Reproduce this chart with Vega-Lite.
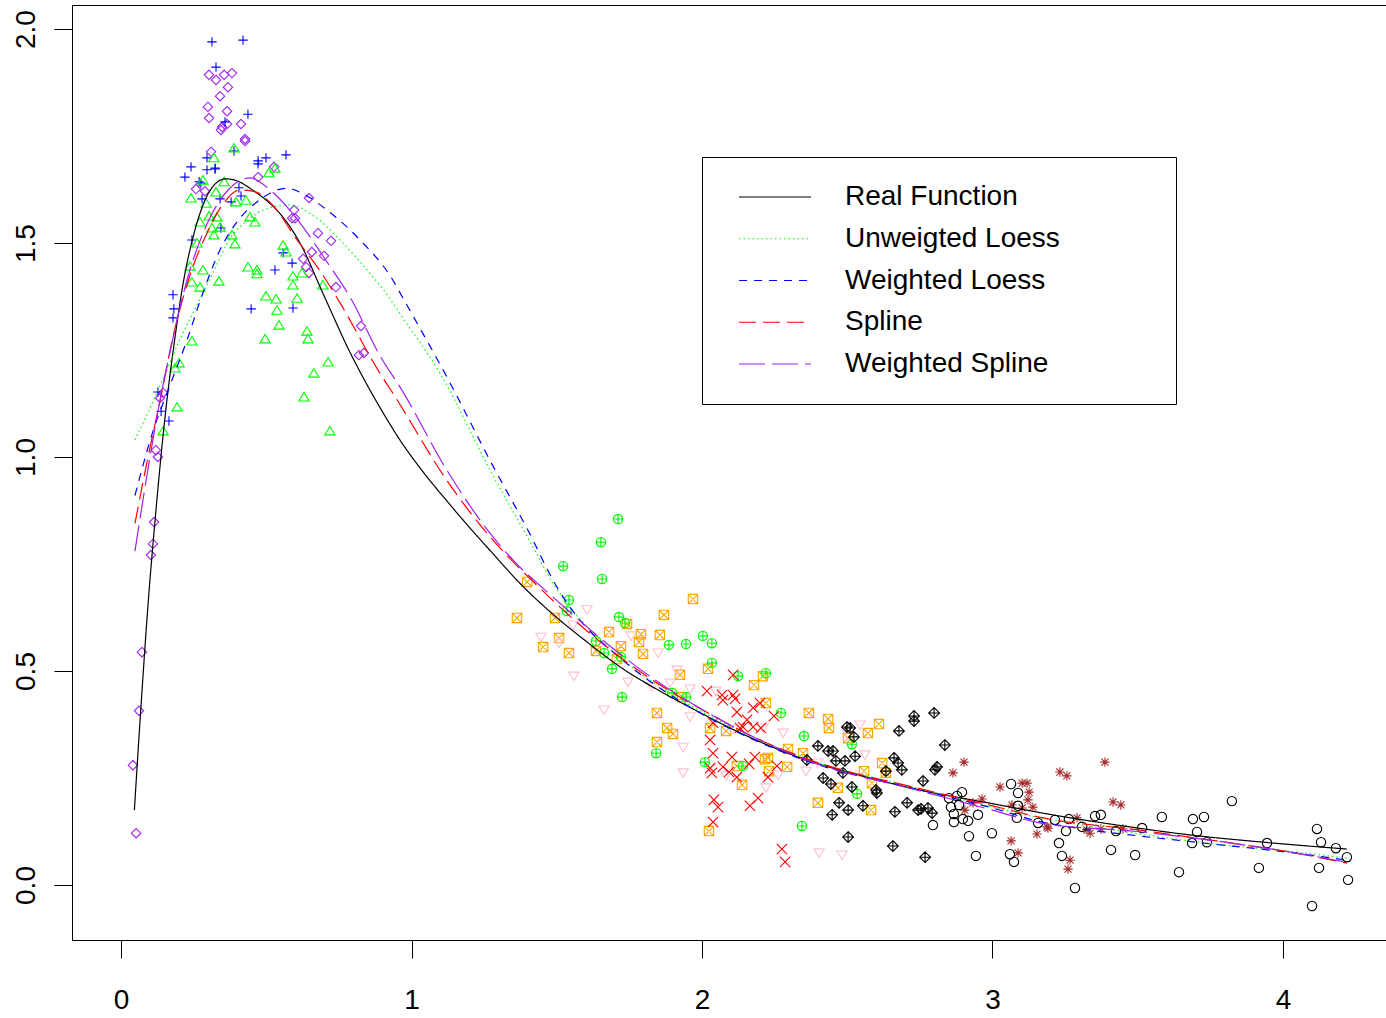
{
"$schema": "https://vega.github.io/schema/vega-lite/v6.json",
"width": 1314, "height": 935,
"autosize": {"type": "none"},
"padding": {"left": 72, "top": 5, "right": 0, "bottom": 78},
"background": "white",
"config": {
  "view": {"stroke": "black", "strokeWidth": 1},
  "axis": {"domain": false, "grid": false, "ticks": true, "tickColor": "black", "tickWidth": 1, "tickSize": 18, "labelFont": "Liberation Sans", "labelFontSize": 28, "labelColor": "black", "title": null, "labelOverlap": false, "labelFlush": false}
},
"datasets": {
"pts": [
{"g":"diamond","x":0.041,"y":0.280},{"g":"diamond","x":0.052,"y":0.121},{"g":"diamond","x":0.062,"y":0.407},{"g":"diamond","x":0.072,"y":0.544},{"g":"diamond","x":0.103,"y":0.771},{"g":"diamond","x":0.110,"y":0.797},{"g":"diamond","x":0.114,"y":0.848},{"g":"diamond","x":0.120,"y":1.016},{"g":"diamond","x":0.127,"y":1.000},{"g":"diamond","x":0.134,"y":1.138},{"g":"diamond","x":0.145,"y":1.150},
{"g":"diamond","x":0.303,"y":1.893},{"g":"diamond","x":0.327,"y":1.881},{"g":"diamond","x":0.355,"y":1.893},{"g":"diamond","x":0.382,"y":1.897},{"g":"diamond","x":0.368,"y":1.864},{"g":"diamond","x":0.341,"y":1.843},{"g":"diamond","x":0.299,"y":1.818},{"g":"diamond","x":0.365,"y":1.808},{"g":"diamond","x":0.303,"y":1.792},{"g":"diamond","x":0.348,"y":1.771},{"g":"diamond","x":0.365,"y":1.778},{"g":"diamond","x":0.413,"y":1.778},{"g":"diamond","x":0.427,"y":1.743},{"g":"diamond","x":0.427,"y":1.738},{"g":"diamond","x":0.310,"y":1.713},{"g":"diamond","x":0.527,"y":1.678},{"g":"diamond","x":0.472,"y":1.654},{"g":"diamond","x":0.258,"y":1.626},{"g":"diamond","x":0.289,"y":1.621},{"g":"diamond","x":0.344,"y":1.764},{"g":"diamond","x":0.647,"y":1.605},{"g":"diamond","x":0.596,"y":1.577},{"g":"diamond","x":0.589,"y":1.558},{"g":"diamond","x":0.599,"y":1.558},{"g":"diamond","x":0.678,"y":1.523},{"g":"diamond","x":0.723,"y":1.505},{"g":"diamond","x":0.657,"y":1.479},{"g":"diamond","x":0.699,"y":1.470},{"g":"diamond","x":0.627,"y":1.463},{"g":"diamond","x":0.637,"y":1.444},{"g":"diamond","x":0.647,"y":1.430},{"g":"diamond","x":0.740,"y":1.397},{"g":"diamond","x":0.826,"y":1.306},{"g":"diamond","x":0.819,"y":1.238},{"g":"diamond","x":0.836,"y":1.243},
{"g":"plus","x":0.313,"y":1.970},{"g":"plus","x":0.420,"y":1.974},{"g":"plus","x":0.327,"y":1.911},{"g":"plus","x":0.437,"y":1.801},{"g":"plus","x":0.358,"y":1.783},{"g":"plus","x":0.389,"y":1.715},{"g":"plus","x":0.296,"y":1.699},{"g":"plus","x":0.472,"y":1.692},{"g":"plus","x":0.472,"y":1.685},{"g":"plus","x":0.499,"y":1.699},{"g":"plus","x":0.568,"y":1.706},{"g":"plus","x":0.241,"y":1.678},{"g":"plus","x":0.296,"y":1.671},{"g":"plus","x":0.324,"y":1.675},{"g":"plus","x":0.324,"y":1.673},{"g":"plus","x":0.220,"y":1.654},{"g":"plus","x":0.269,"y":1.643},{"g":"plus","x":0.275,"y":1.640},{"g":"plus","x":0.406,"y":1.629},{"g":"plus","x":0.413,"y":1.610},{"g":"plus","x":0.341,"y":1.603},{"g":"plus","x":0.279,"y":1.603},{"g":"plus","x":0.379,"y":1.596},{"g":"plus","x":0.344,"y":1.535},{"g":"plus","x":0.244,"y":1.507},{"g":"plus","x":0.558,"y":1.477},{"g":"plus","x":0.589,"y":1.453},{"g":"plus","x":0.530,"y":1.437},{"g":"plus","x":0.448,"y":1.346},{"g":"plus","x":0.592,"y":1.348},{"g":"plus","x":0.179,"y":1.379},{"g":"plus","x":0.182,"y":1.346},{"g":"plus","x":0.179,"y":1.325},{"g":"plus","x":0.127,"y":1.152},{"g":"plus","x":0.138,"y":1.107},{"g":"plus","x":0.165,"y":1.084},
{"g":"triangle","x":0.389,"y":1.722},{"g":"triangle","x":0.320,"y":1.699},{"g":"triangle","x":0.530,"y":1.675},{"g":"triangle","x":0.509,"y":1.664},{"g":"triangle","x":0.282,"y":1.647},{"g":"triangle","x":0.355,"y":1.643},{"g":"triangle","x":0.241,"y":1.605},{"g":"triangle","x":0.327,"y":1.619},{"g":"triangle","x":0.293,"y":1.593},{"g":"triangle","x":0.396,"y":1.596},{"g":"triangle","x":0.430,"y":1.600},{"g":"triangle","x":0.303,"y":1.563},{"g":"triangle","x":0.272,"y":1.549},{"g":"triangle","x":0.330,"y":1.561},{"g":"triangle","x":0.444,"y":1.561},{"g":"triangle","x":0.461,"y":1.549},{"g":"triangle","x":0.313,"y":1.535},{"g":"triangle","x":0.320,"y":1.519},{"g":"triangle","x":0.341,"y":1.537},{"g":"triangle","x":0.262,"y":1.500},{"g":"triangle","x":0.382,"y":1.519},{"g":"triangle","x":0.392,"y":1.498},{"g":"triangle","x":0.558,"y":1.495},{"g":"triangle","x":0.568,"y":1.479},{"g":"triangle","x":0.238,"y":1.446},{"g":"triangle","x":0.282,"y":1.437},{"g":"triangle","x":0.244,"y":1.409},{"g":"triangle","x":0.272,"y":1.397},{"g":"triangle","x":0.337,"y":1.411},{"g":"triangle","x":0.437,"y":1.444},{"g":"triangle","x":0.468,"y":1.437},{"g":"triangle","x":0.468,"y":1.428},{"g":"triangle","x":0.592,"y":1.423},{"g":"triangle","x":0.592,"y":1.402},{"g":"triangle","x":0.623,"y":1.430},{"g":"triangle","x":0.695,"y":1.402},{"g":"triangle","x":0.499,"y":1.376},{"g":"triangle","x":0.534,"y":1.369},{"g":"triangle","x":0.606,"y":1.371},{"g":"triangle","x":0.537,"y":1.343},{"g":"triangle","x":0.544,"y":1.308},{"g":"triangle","x":0.640,"y":1.294},{"g":"triangle","x":0.644,"y":1.276},{"g":"triangle","x":0.496,"y":1.276},{"g":"triangle","x":0.244,"y":1.271},{"g":"triangle","x":0.713,"y":1.222},{"g":"triangle","x":0.664,"y":1.196},{"g":"triangle","x":0.200,"y":1.220},{"g":"triangle","x":0.186,"y":1.208},{"g":"triangle","x":0.193,"y":1.117},{"g":"triangle","x":0.630,"y":1.140},{"g":"triangle","x":0.719,"y":1.061},{"g":"triangle","x":0.145,"y":1.061},
{"g":"boxx","x":1.398,"y":0.708},{"g":"boxx","x":1.363,"y":0.624},{"g":"boxx","x":1.494,"y":0.624},{"g":"boxx","x":1.508,"y":0.577},{"g":"boxx","x":1.453,"y":0.556},{"g":"boxx","x":1.542,"y":0.542},{"g":"boxx","x":1.680,"y":0.591},{"g":"boxx","x":1.721,"y":0.558},{"g":"boxx","x":1.783,"y":0.568},{"g":"boxx","x":1.790,"y":0.586},{"g":"boxx","x":1.797,"y":0.540},{"g":"boxx","x":1.855,"y":0.584},{"g":"boxx","x":1.869,"y":0.631},{"g":"boxx","x":1.969,"y":0.668},{"g":"boxx","x":1.635,"y":0.547},{"g":"boxx","x":1.707,"y":0.528},{"g":"boxx","x":1.742,"y":0.610},{"g":"boxx","x":1.924,"y":0.491},{"g":"boxx","x":2.021,"y":0.505},{"g":"boxx","x":1.845,"y":0.402},{"g":"boxx","x":1.880,"y":0.367},{"g":"boxx","x":1.900,"y":0.353},{"g":"boxx","x":1.845,"y":0.334},{"g":"boxx","x":2.028,"y":0.367},{"g":"boxx","x":1.931,"y":0.439},{"g":"boxx","x":2.083,"y":0.360},{"g":"boxx","x":2.179,"y":0.467},{"g":"boxx","x":2.210,"y":0.488},{"g":"boxx","x":2.220,"y":0.425},{"g":"boxx","x":2.227,"y":0.297},{"g":"boxx","x":2.217,"y":0.294},{"g":"boxx","x":2.231,"y":0.266},{"g":"boxx","x":2.120,"y":0.278},{"g":"boxx","x":2.138,"y":0.234},{"g":"boxx","x":2.293,"y":0.276},{"g":"boxx","x":2.296,"y":0.318},{"g":"boxx","x":2.348,"y":0.308},{"g":"boxx","x":2.368,"y":0.402},{"g":"boxx","x":2.434,"y":0.388},{"g":"boxx","x":2.437,"y":0.367},{"g":"boxx","x":2.571,"y":0.355},{"g":"boxx","x":2.609,"y":0.376},{"g":"boxx","x":2.503,"y":0.343},{"g":"boxx","x":2.620,"y":0.285},{"g":"boxx","x":2.633,"y":0.262},{"g":"boxx","x":2.558,"y":0.266},{"g":"boxx","x":2.585,"y":0.238},{"g":"boxx","x":2.468,"y":0.227},{"g":"boxx","x":2.399,"y":0.192},{"g":"boxx","x":2.582,"y":0.175},{"g":"boxx","x":2.024,"y":0.126},
{"g":"circplus","x":1.711,"y":0.855},{"g":"circplus","x":1.652,"y":0.801},{"g":"circplus","x":1.522,"y":0.745},{"g":"circplus","x":1.656,"y":0.715},{"g":"circplus","x":1.542,"y":0.666},{"g":"circplus","x":1.535,"y":0.640},{"g":"circplus","x":1.714,"y":0.626},{"g":"circplus","x":1.735,"y":0.612},{"g":"circplus","x":1.886,"y":0.561},{"g":"circplus","x":1.945,"y":0.563},{"g":"circplus","x":2.003,"y":0.582},{"g":"circplus","x":2.034,"y":0.565},{"g":"circplus","x":1.663,"y":0.542},{"g":"circplus","x":1.635,"y":0.570},{"g":"circplus","x":1.690,"y":0.505},{"g":"circplus","x":1.725,"y":0.439},{"g":"circplus","x":1.897,"y":0.449},{"g":"circplus","x":1.945,"y":0.439},{"g":"circplus","x":2.034,"y":0.519},{"g":"circplus","x":2.124,"y":0.488},{"g":"circplus","x":2.220,"y":0.495},{"g":"circplus","x":2.272,"y":0.402},{"g":"circplus","x":2.351,"y":0.348},{"g":"circplus","x":2.516,"y":0.329},{"g":"circplus","x":2.010,"y":0.287},{"g":"circplus","x":2.141,"y":0.278},{"g":"circplus","x":2.534,"y":0.213},{"g":"circplus","x":2.344,"y":0.138},{"g":"circplus","x":1.721,"y":0.533},{"g":"circplus","x":1.842,"y":0.308},
{"g":"tridown","x":1.604,"y":0.643},{"g":"tridown","x":1.556,"y":0.607},{"g":"tridown","x":1.446,"y":0.579},{"g":"tridown","x":1.508,"y":0.565},{"g":"tridown","x":1.756,"y":0.582},{"g":"tridown","x":1.849,"y":0.542},{"g":"tridown","x":1.559,"y":0.488},{"g":"tridown","x":1.745,"y":0.474},{"g":"tridown","x":1.914,"y":0.502},{"g":"tridown","x":1.890,"y":0.472},{"g":"tridown","x":1.959,"y":0.458},{"g":"tridown","x":1.828,"y":0.463},{"g":"tridown","x":1.663,"y":0.409},{"g":"tridown","x":1.959,"y":0.393},{"g":"tridown","x":2.048,"y":0.453},{"g":"tridown","x":1.935,"y":0.322},{"g":"tridown","x":2.107,"y":0.364},{"g":"tridown","x":2.279,"y":0.355},{"g":"tridown","x":2.210,"y":0.367},{"g":"tridown","x":2.083,"y":0.255},{"g":"tridown","x":2.220,"y":0.227},{"g":"tridown","x":2.262,"y":0.257},{"g":"tridown","x":2.358,"y":0.266},{"g":"tridown","x":2.399,"y":0.285},{"g":"tridown","x":2.561,"y":0.304},{"g":"tridown","x":2.544,"y":0.374},{"g":"tridown","x":2.403,"y":0.075},{"g":"tridown","x":2.482,"y":0.070},{"g":"tridown","x":2.503,"y":0.348},{"g":"tridown","x":1.935,"y":0.262},
{"g":"cross","x":2.017,"y":0.453},{"g":"cross","x":2.069,"y":0.444},{"g":"cross","x":2.107,"y":0.444},{"g":"cross","x":2.072,"y":0.432},{"g":"cross","x":2.114,"y":0.435},{"g":"cross","x":2.120,"y":0.404},{"g":"cross","x":2.176,"y":0.414},{"g":"cross","x":2.200,"y":0.425},{"g":"cross","x":2.248,"y":0.395},{"g":"cross","x":2.155,"y":0.386},{"g":"cross","x":2.176,"y":0.369},{"g":"cross","x":2.131,"y":0.367},{"g":"cross","x":2.203,"y":0.367},{"g":"cross","x":2.038,"y":0.379},{"g":"cross","x":2.028,"y":0.339},{"g":"cross","x":2.038,"y":0.308},{"g":"cross","x":2.103,"y":0.299},{"g":"cross","x":2.072,"y":0.276},{"g":"cross","x":2.028,"y":0.273},{"g":"cross","x":2.034,"y":0.262},{"g":"cross","x":2.120,"y":0.252},{"g":"cross","x":2.093,"y":0.264},{"g":"cross","x":2.162,"y":0.283},{"g":"cross","x":2.182,"y":0.299},{"g":"cross","x":2.227,"y":0.252},{"g":"cross","x":2.258,"y":0.278},{"g":"cross","x":2.041,"y":0.199},{"g":"cross","x":2.055,"y":0.182},{"g":"cross","x":2.165,"y":0.185},{"g":"cross","x":2.193,"y":0.203},{"g":"cross","x":2.038,"y":0.147},{"g":"cross","x":2.275,"y":0.084},{"g":"cross","x":2.286,"y":0.054},{"g":"cross","x":2.107,"y":0.491},{"g":"cross","x":2.141,"y":0.369},
{"g":"diamplus","x":2.499,"y":0.369},{"g":"diamplus","x":2.510,"y":0.367},{"g":"diamplus","x":2.523,"y":0.346},{"g":"diamplus","x":2.399,"y":0.325},{"g":"diamplus","x":2.434,"y":0.313},{"g":"diamplus","x":2.451,"y":0.313},{"g":"diamplus","x":2.361,"y":0.292},{"g":"diamplus","x":2.461,"y":0.290},{"g":"diamplus","x":2.492,"y":0.290},{"g":"diamplus","x":2.527,"y":0.301},{"g":"diamplus","x":2.417,"y":0.250},{"g":"diamplus","x":2.444,"y":0.236},{"g":"diamplus","x":2.485,"y":0.262},{"g":"diamplus","x":2.516,"y":0.229},{"g":"diamplus","x":2.599,"y":0.222},{"g":"diamplus","x":2.602,"y":0.215},{"g":"diamplus","x":2.472,"y":0.192},{"g":"diamplus","x":2.503,"y":0.175},{"g":"diamplus","x":2.554,"y":0.185},{"g":"diamplus","x":2.448,"y":0.164},{"g":"diamplus","x":2.503,"y":0.112},{"g":"diamplus","x":2.661,"y":0.297},{"g":"diamplus","x":2.675,"y":0.285},{"g":"diamplus","x":2.688,"y":0.269},{"g":"diamplus","x":2.633,"y":0.266},{"g":"diamplus","x":2.678,"y":0.360},{"g":"diamplus","x":2.730,"y":0.395},{"g":"diamplus","x":2.730,"y":0.383},{"g":"diamplus","x":2.799,"y":0.402},{"g":"diamplus","x":2.836,"y":0.327},{"g":"diamplus","x":2.761,"y":0.243},{"g":"diamplus","x":2.802,"y":0.269},{"g":"diamplus","x":2.809,"y":0.276},{"g":"diamplus","x":2.706,"y":0.192},{"g":"diamplus","x":2.664,"y":0.171},{"g":"diamplus","x":2.754,"y":0.178},{"g":"diamplus","x":2.778,"y":0.180},{"g":"diamplus","x":2.792,"y":0.168},{"g":"diamplus","x":2.657,"y":0.091},{"g":"diamplus","x":2.768,"y":0.065},{"g":"diamplus","x":2.744,"y":0.175},
{"g":"asterisk","x":2.902,"y":0.287},{"g":"asterisk","x":2.864,"y":0.262},{"g":"asterisk","x":2.964,"y":0.201},{"g":"asterisk","x":3.026,"y":0.229},{"g":"asterisk","x":3.067,"y":0.187},{"g":"asterisk","x":3.102,"y":0.238},{"g":"asterisk","x":3.119,"y":0.238},{"g":"asterisk","x":3.126,"y":0.217},{"g":"asterisk","x":3.122,"y":0.199},{"g":"asterisk","x":3.139,"y":0.182},{"g":"asterisk","x":3.102,"y":0.180},{"g":"asterisk","x":3.188,"y":0.136},{"g":"asterisk","x":3.153,"y":0.119},{"g":"asterisk","x":3.064,"y":0.103},{"g":"asterisk","x":3.088,"y":0.075},{"g":"asterisk","x":2.905,"y":0.175},{"g":"asterisk","x":2.933,"y":0.192},{"g":"asterisk","x":3.232,"y":0.264},{"g":"asterisk","x":3.256,"y":0.255},{"g":"asterisk","x":3.387,"y":0.287},{"g":"asterisk","x":3.415,"y":0.194},{"g":"asterisk","x":3.442,"y":0.187},{"g":"asterisk","x":3.291,"y":0.157},{"g":"asterisk","x":3.191,"y":0.133},{"g":"asterisk","x":3.336,"y":0.121},{"g":"asterisk","x":3.373,"y":0.131},{"g":"asterisk","x":3.449,"y":0.131},{"g":"asterisk","x":3.267,"y":0.058},{"g":"asterisk","x":3.260,"y":0.037},{"g":"asterisk","x":3.325,"y":0.129},
{"g":"circle","x":3.064,"y":0.236},{"g":"circle","x":3.088,"y":0.215},{"g":"circle","x":3.088,"y":0.185},{"g":"circle","x":2.895,"y":0.217},{"g":"circle","x":2.878,"y":0.208},{"g":"circle","x":2.850,"y":0.203},{"g":"circle","x":2.885,"y":0.187},{"g":"circle","x":2.857,"y":0.182},{"g":"circle","x":2.867,"y":0.166},{"g":"circle","x":2.898,"y":0.154},{"g":"circle","x":2.916,"y":0.150},{"g":"circle","x":2.867,"y":0.147},{"g":"circle","x":2.950,"y":0.164},{"g":"circle","x":2.795,"y":0.140},{"g":"circle","x":2.919,"y":0.114},{"g":"circle","x":2.998,"y":0.121},{"g":"circle","x":2.943,"y":0.068},{"g":"circle","x":3.060,"y":0.072},{"g":"circle","x":3.074,"y":0.054},{"g":"circle","x":3.084,"y":0.157},{"g":"circle","x":3.157,"y":0.145},{"g":"circle","x":3.215,"y":0.152},{"g":"circle","x":3.263,"y":0.154},{"g":"circle","x":3.253,"y":0.126},{"g":"circle","x":3.308,"y":0.136},{"g":"circle","x":3.353,"y":0.161},{"g":"circle","x":3.373,"y":0.164},{"g":"circle","x":3.229,"y":0.098},{"g":"circle","x":3.239,"y":0.068},{"g":"circle","x":3.284,"y":-0.007},{"g":"circle","x":3.408,"y":0.082},{"g":"circle","x":3.491,"y":0.070},{"g":"circle","x":3.425,"y":0.126},{"g":"circle","x":3.515,"y":0.133},{"g":"circle","x":3.583,"y":0.159},{"g":"circle","x":3.690,"y":0.154},{"g":"circle","x":3.728,"y":0.159},{"g":"circle","x":3.824,"y":0.196},{"g":"circle","x":3.704,"y":0.124},{"g":"circle","x":3.687,"y":0.098},{"g":"circle","x":3.738,"y":0.100},{"g":"circle","x":3.642,"y":0.030},{"g":"circle","x":3.917,"y":0.040},{"g":"circle","x":3.945,"y":0.098},{"g":"circle","x":4.117,"y":0.131},{"g":"circle","x":4.131,"y":0.100},{"g":"circle","x":4.182,"y":0.086},{"g":"circle","x":4.220,"y":0.065},{"g":"circle","x":4.124,"y":0.040},{"g":"circle","x":4.224,"y":0.012},{"g":"circle","x":4.100,"y":-0.049}
],
"curves": [
{"s":"Real Function","x":0.046,"y":0.175},{"s":"Real Function","x":0.07,"y":0.43},{"s":"Real Function","x":0.093,"y":0.655},{"s":"Real Function","x":0.117,"y":0.85},{"s":"Real Function","x":0.151,"y":1.09},{"s":"Real Function","x":0.186,"y":1.28},{"s":"Real Function","x":0.215,"y":1.41},{"s":"Real Function","x":0.243,"y":1.50},{"s":"Real Function","x":0.283,"y":1.59},{"s":"Real Function","x":0.32,"y":1.635},{"s":"Real Function","x":0.36,"y":1.65},{"s":"Real Function","x":0.40,"y":1.645},{"s":"Real Function","x":0.45,"y":1.625},{"s":"Real Function","x":0.50,"y":1.60},{"s":"Real Function","x":0.558,"y":1.56},{"s":"Real Function","x":0.616,"y":1.50},{"s":"Real Function","x":0.70,"y":1.375},{"s":"Real Function","x":0.788,"y":1.245},{"s":"Real Function","x":0.85,"y":1.165},{"s":"Real Function","x":0.892,"y":1.115},{"s":"Real Function","x":0.96,"y":1.04},{"s":"Real Function","x":1.04,"y":0.965},{"s":"Real Function","x":1.121,"y":0.898},{"s":"Real Function","x":1.2,"y":0.835},{"s":"Real Function","x":1.27,"y":0.782},{"s":"Real Function","x":1.373,"y":0.705},{"s":"Real Function","x":1.5,"y":0.625},{"s":"Real Function","x":1.6,"y":0.57},{"s":"Real Function","x":1.728,"y":0.505},{"s":"Real Function","x":1.85,"y":0.455},{"s":"Real Function","x":1.959,"y":0.415},{"s":"Real Function","x":2.165,"y":0.345},{"s":"Real Function","x":2.36,"y":0.292},{"s":"Real Function","x":2.55,"y":0.255},{"s":"Real Function","x":2.75,"y":0.222},{"s":"Real Function","x":3.0,"y":0.19},{"s":"Real Function","x":3.198,"y":0.165},{"s":"Real Function","x":3.45,"y":0.138},{"s":"Real Function","x":3.68,"y":0.117},{"s":"Real Function","x":3.95,"y":0.099},{"s":"Real Function","x":4.22,"y":0.084},
{"s":"Unweigted Loess","x":0.048,"y":1.04},{"s":"Unweigted Loess","x":0.09,"y":1.10},{"s":"Unweigted Loess","x":0.146,"y":1.185},{"s":"Unweigted Loess","x":0.2,"y":1.27},{"s":"Unweigted Loess","x":0.282,"y":1.383},{"s":"Unweigted Loess","x":0.33,"y":1.45},{"s":"Unweigted Loess","x":0.375,"y":1.51},{"s":"Unweigted Loess","x":0.43,"y":1.55},{"s":"Unweigted Loess","x":0.49,"y":1.577},{"s":"Unweigted Loess","x":0.582,"y":1.589},{"s":"Unweigted Loess","x":0.66,"y":1.565},{"s":"Unweigted Loess","x":0.754,"y":1.507},{"s":"Unweigted Loess","x":0.868,"y":1.42},{"s":"Unweigted Loess","x":0.909,"y":1.386},{"s":"Unweigted Loess","x":0.96,"y":1.335},{"s":"Unweigted Loess","x":1.098,"y":1.196},{"s":"Unweigted Loess","x":1.27,"y":0.97},{"s":"Unweigted Loess","x":1.418,"y":0.79},{"s":"Unweigted Loess","x":1.487,"y":0.705},{"s":"Unweigted Loess","x":1.535,"y":0.659},{"s":"Unweigted Loess","x":1.728,"y":0.526},{"s":"Unweigted Loess","x":1.948,"y":0.425},{"s":"Unweigted Loess","x":2.16,"y":0.35},{"s":"Unweigted Loess","x":2.36,"y":0.295},{"s":"Unweigted Loess","x":2.75,"y":0.225},{"s":"Unweigted Loess","x":3.164,"y":0.157},{"s":"Unweigted Loess","x":3.45,"y":0.125},{"s":"Unweigted Loess","x":3.74,"y":0.098},{"s":"Unweigted Loess","x":4.0,"y":0.08},{"s":"Unweigted Loess","x":4.22,"y":0.063},
{"s":"Weighted Loess","x":0.048,"y":0.91},{"s":"Weighted Loess","x":0.11,"y":1.06},{"s":"Weighted Loess","x":0.17,"y":1.17},{"s":"Weighted Loess","x":0.227,"y":1.273},{"s":"Weighted Loess","x":0.28,"y":1.38},{"s":"Weighted Loess","x":0.341,"y":1.484},{"s":"Weighted Loess","x":0.40,"y":1.55},{"s":"Weighted Loess","x":0.468,"y":1.596},{"s":"Weighted Loess","x":0.571,"y":1.628},{"s":"Weighted Loess","x":0.64,"y":1.61},{"s":"Weighted Loess","x":0.709,"y":1.577},{"s":"Weighted Loess","x":0.823,"y":1.507},{"s":"Weighted Loess","x":0.936,"y":1.413},{"s":"Weighted Loess","x":0.965,"y":1.378},{"s":"Weighted Loess","x":1.121,"y":1.188},{"s":"Weighted Loess","x":1.282,"y":0.977},{"s":"Weighted Loess","x":1.40,"y":0.83},{"s":"Weighted Loess","x":1.50,"y":0.697},{"s":"Weighted Loess","x":1.55,"y":0.645},{"s":"Weighted Loess","x":1.728,"y":0.525},{"s":"Weighted Loess","x":1.948,"y":0.42},{"s":"Weighted Loess","x":2.16,"y":0.345},{"s":"Weighted Loess","x":2.36,"y":0.29},{"s":"Weighted Loess","x":2.75,"y":0.222},{"s":"Weighted Loess","x":3.0,"y":0.18},{"s":"Weighted Loess","x":3.164,"y":0.148},{"s":"Weighted Loess","x":3.31,"y":0.131},{"s":"Weighted Loess","x":3.5,"y":0.115},{"s":"Weighted Loess","x":3.74,"y":0.097},{"s":"Weighted Loess","x":4.0,"y":0.078},{"s":"Weighted Loess","x":4.22,"y":0.058},
{"s":"Spline","x":0.048,"y":0.845},{"s":"Spline","x":0.09,"y":0.99},{"s":"Spline","x":0.134,"y":1.13},{"s":"Spline","x":0.179,"y":1.28},{"s":"Spline","x":0.24,"y":1.43},{"s":"Spline","x":0.296,"y":1.523},{"s":"Spline","x":0.35,"y":1.59},{"s":"Spline","x":0.41,"y":1.624},{"s":"Spline","x":0.46,"y":1.62},{"s":"Spline","x":0.52,"y":1.59},{"s":"Spline","x":0.606,"y":1.507},{"s":"Spline","x":0.68,"y":1.44},{"s":"Spline","x":0.754,"y":1.36},{"s":"Spline","x":0.892,"y":1.195},{"s":"Spline","x":0.936,"y":1.149},{"s":"Spline","x":1.121,"y":0.946},{"s":"Spline","x":1.27,"y":0.814},{"s":"Spline","x":1.35,"y":0.755},{"s":"Spline","x":1.42,"y":0.708},{"s":"Spline","x":1.614,"y":0.588},{"s":"Spline","x":1.845,"y":0.472},{"s":"Spline","x":2.0,"y":0.41},{"s":"Spline","x":2.165,"y":0.35},{"s":"Spline","x":2.36,"y":0.295},{"s":"Spline","x":2.75,"y":0.225},{"s":"Spline","x":3.0,"y":0.185},{"s":"Spline","x":3.164,"y":0.158},{"s":"Spline","x":3.51,"y":0.128},{"s":"Spline","x":3.8,"y":0.10},{"s":"Spline","x":4.0,"y":0.08},{"s":"Spline","x":4.22,"y":0.051},
{"s":"Weighted Spline","x":0.048,"y":0.78},{"s":"Weighted Spline","x":0.09,"y":0.96},{"s":"Weighted Spline","x":0.128,"y":1.11},{"s":"Weighted Spline","x":0.17,"y":1.25},{"s":"Weighted Spline","x":0.23,"y":1.42},{"s":"Weighted Spline","x":0.30,"y":1.55},{"s":"Weighted Spline","x":0.37,"y":1.625},{"s":"Weighted Spline","x":0.444,"y":1.652},{"s":"Weighted Spline","x":0.52,"y":1.62},{"s":"Weighted Spline","x":0.616,"y":1.547},{"s":"Weighted Spline","x":0.70,"y":1.465},{"s":"Weighted Spline","x":0.788,"y":1.374},{"s":"Weighted Spline","x":0.897,"y":1.23},{"s":"Weighted Spline","x":0.96,"y":1.164},{"s":"Weighted Spline","x":1.121,"y":0.97},{"s":"Weighted Spline","x":1.27,"y":0.822},{"s":"Weighted Spline","x":1.35,"y":0.759},{"s":"Weighted Spline","x":1.5,"y":0.665},{"s":"Weighted Spline","x":1.614,"y":0.597},{"s":"Weighted Spline","x":1.845,"y":0.476},{"s":"Weighted Spline","x":2.0,"y":0.41},{"s":"Weighted Spline","x":2.165,"y":0.35},{"s":"Weighted Spline","x":2.36,"y":0.292},{"s":"Weighted Spline","x":2.75,"y":0.22},{"s":"Weighted Spline","x":3.0,"y":0.175},{"s":"Weighted Spline","x":3.163,"y":0.145},{"s":"Weighted Spline","x":3.5,"y":0.125},{"s":"Weighted Spline","x":3.8,"y":0.10},{"s":"Weighted Spline","x":4.0,"y":0.08},{"s":"Weighted Spline","x":4.22,"y":0.053}
]
},
"encoding": {
  "x": {"field": "x", "type": "quantitative", "scale": {"domain": [-0.1687, 4.3546], "nice": false, "zero": false},
        "axis": {"values": [0, 1, 2, 3, 4], "format": "d", "labelBaseline": "alphabetic", "labelPadding": 50}},
  "y": {"field": "y", "type": "quantitative", "scale": {"domain": [-0.1285, 2.0561], "nice": false, "zero": false},
        "axis": {"values": [0, 0.5, 1, 1.5, 2], "format": ".1f", "labelAngle": 270, "labelAlign": "center", "labelBaseline": "alphabetic", "labelPadding": 20}}
},
"layer": [
  {
    "data": {"name": "pts"},
    "mark": {"type": "point", "filled": false, "strokeWidth": 1.1, "size": 88, "opacity": 1},
    "encoding": {
      "shape": {"field": "g", "type": "nominal", "legend": null,
        "scale": {"domain": ["diamond","plus","triangle","boxx","circplus","tridown","cross","diamplus","asterisk","circle"],
          "range": ["M0,-1L1,0L0,1L-1,0Z", "M-1,0L1,0M0,-1L0,1", "M0,-0.95L1.1,0.85L-1.1,0.85Z", "M-1,-1L1,-1L1,1L-1,1ZM-1,-1L1,1M-1,1L1,-1", "M1,0A1,1,0,1,1,-1,0A1,1,0,1,1,1,0ZM-1,0L1,0M0,-1L0,1", "M0,0.95L1.1,-0.85L-1.1,-0.85Z", "M-1.1,-1.1L1.1,1.1M-1.1,1.1L1.1,-1.1", "M0,-1.15L1.15,0L0,1.15L-1.15,0ZM-1.15,0L1.15,0M0,-1.15L0,1.15", "M-1,0L1,0M0,-1L0,1M-0.75,-0.75L0.75,0.75M-0.75,0.75L0.75,-0.75", "circle"]}},
      "color": {"field": "g", "type": "nominal", "legend": null,
        "scale": {"domain": ["diamond","plus","triangle","boxx","circplus","tridown","cross","diamplus","asterisk","circle"],
          "range": ["#A020F0","#0000FF","#00FF00","#FFA500","#00FF00","#FFC0CB","#FF0000","#000000","#A52A2A","#000000"]}}
    }
  },
  {
    "data": {"name": "curves"},
    "mark": {"type": "line", "strokeWidth": 1.2, "interpolate": "monotone"},
    "encoding": {
      "color": {"field": "s", "type": "nominal",
        "scale": {"domain": ["Real Function","Unweigted Loess","Weighted Loess","Spline","Weighted Spline"], "range": ["#000000","#00FF00","#0000FF","#FF0000","#A020F0"]},
        "legend": {"title": null, "orient": "none", "legendX": 630, "legendY": 152, "symbolType": "M-4,0L4,0M41.4,0L41.4,0", "symbolSize": 324, "symbolStrokeWidth": 1, "symbolOffset": 33, "labelOffset": 56, "labelFontSize": 28, "labelFont": "Liberation Sans", "labelColor": "black", "labelLimit": 400, "padding": 26, "rowPadding": 13.75, "strokeColor": "black", "fillColor": "white"}},
      "strokeDash": {"field": "s", "type": "nominal",
        "scale": {"domain": ["Real Function","Unweigted Loess","Weighted Loess","Spline","Weighted Spline"], "range": [[1,0],[1.5,3],[8,7],[17,7],[26,7]]},
        "legend": {"title": null, "orient": "none", "legendX": 630, "legendY": 152, "symbolType": "M-4,0L4,0M41.4,0L41.4,0", "symbolSize": 324, "symbolStrokeWidth": 1, "symbolOffset": 33, "labelOffset": 56, "labelFontSize": 28, "labelFont": "Liberation Sans", "labelColor": "black", "labelLimit": 400, "padding": 26, "rowPadding": 13.75, "strokeColor": "black", "fillColor": "white"}}
    }
  }
],
"resolve": {"scale": {"color": "independent", "shape": "independent", "strokeDash": "independent"}}
}
